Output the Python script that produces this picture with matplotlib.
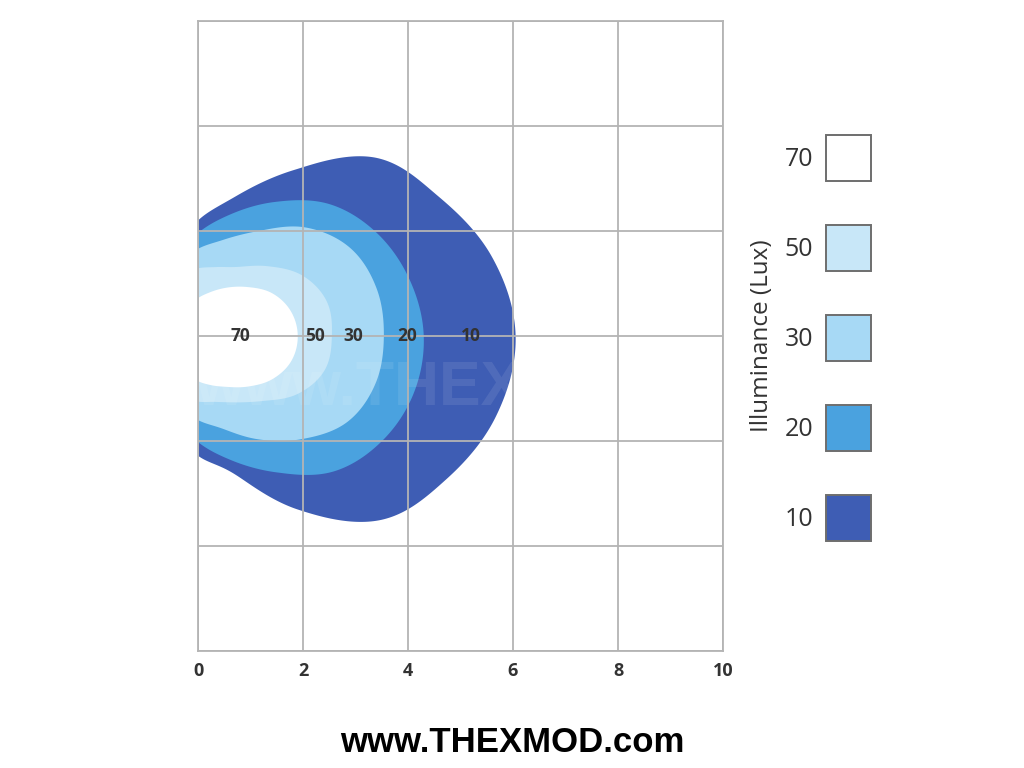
import numpy as np
import matplotlib
matplotlib.use("Agg")
import matplotlib.pyplot as plt
from matplotlib.patches import Rectangle

# ---- data ----
# boundary radius (m) of each iso-lux contour, measured from the origin at given angles (deg)
ANGLES = [-90, -75, -60, -45, -30, -15, 0, 15, 30, 45, 60, 75, 90]
R10 = [2.28, 2.73, 3.82, 4.95, 5.46, 5.88, 6.05, 5.80, 5.30, 4.80, 3.65, 2.75, 2.20]
R20 = [2.02, 2.45, 3.00, 3.65, 4.03, 4.25, 4.30, 4.17, 3.93, 3.55, 2.95, 2.40, 1.96]
R30 = [1.60, 1.83, 2.27, 2.78, 3.28, 3.50, 3.54, 3.52, 3.35, 2.92, 2.31, 1.90, 1.66]
R50 = [1.25, 1.30, 1.46, 1.75, 2.20, 2.50, 2.55, 2.54, 2.30, 1.88, 1.52, 1.36, 1.29]
R70 = [0.86, 0.97, 1.12, 1.36, 1.64, 1.84, 1.90, 1.83, 1.63, 1.32, 1.06, 0.86, 0.72]

LEVELS = [10, 20, 30, 50, 70]
RADII = [R10, R20, R30, R50, R70]
COLORS = ["#3e5db4", "#4aa2df", "#a7d9f5", "#c8e7f8", "#ffffff"]
LABEL_X = [5.2, 3.98, 2.95, 2.23, 0.8]          # where the level numbers sit on y = 0

X_TICKS = [0, 2, 4, 6, 8, 10]
Y_TICKS = [-6, -4, -2, 0, 2, 4, 6]
LEGEND_LEVELS = [70, 50, 30, 20, 10]
LEGEND_COLORS = ["#ffffff", "#c8e7f8", "#a7d9f5", "#4aa2df", "#3e5db4"]


def smooth_radius(angles, radii, n=30):
    """Catmull-Rom through r(theta), one extra extrapolated knot at each end."""
    a = np.asarray(angles, float)
    r = np.asarray(radii, float)
    step = a[1] - a[0]
    a = np.concatenate([[a[0] - step], a, [a[-1] + step]])
    r = np.concatenate([[2 * r[0] - r[1]], r, [2 * r[-1] - r[-2]]])
    rp = np.concatenate([[2 * r[0] - r[1]], r, [2 * r[-1] - r[-2]]])
    th_out, r_out = [], []
    t = np.linspace(0, 1, n, endpoint=False)
    for i in range(len(a) - 1):
        p0, p1, p2, p3 = rp[i], rp[i + 1], rp[i + 2], rp[i + 3]
        seg = 0.5 * ((2 * p1) + (-p0 + p2) * t + (2 * p0 - 5 * p1 + 4 * p2 - p3) * t ** 2
                     + (-p0 + 3 * p1 - 3 * p2 + p3) * t ** 3)
        th_out.append(a[i] + step * t)
        r_out.append(seg)
    th_out = np.radians(np.concatenate(th_out + [[a[-1]]]))
    r_out = np.concatenate(r_out + [[r[-1]]])
    return r_out * np.cos(th_out), r_out * np.sin(th_out)


fig = plt.figure(figsize=(10.24, 7.68), dpi=100)
ax = fig.add_axes([198 / 1024, 1 - 651 / 768, 525 / 1024, 630 / 768])

for lev, r, col in zip(LEVELS, RADII, COLORS):
    xs, ys = smooth_radius(ANGLES, r)
    ax.fill(xs, ys, color=col, lw=0, zorder=1)

# faint watermark
ax.text(-0.05, -1.33, "www.THEXMOD.com", fontsize=45, fontweight="bold",
        family="Liberation Sans", color="white", alpha=0.09, ha="left",
        va="baseline", zorder=2, clip_on=True)

for lev, lx in zip(LEVELS, LABEL_X):
    ax.text(lx, 0, str(lev), ha="center", va="center", fontsize=12.5,
            fontweight="bold", family="Open Sans", color="#333333", zorder=4)

ax.set_xlim(0, 10)
ax.set_ylim(-6, 6)
ax.set_xticks(X_TICKS)
ax.set_yticks(Y_TICKS)
ax.set_yticklabels([])
ax.grid(True, color="#b4b4b4", lw=1.3, zorder=3)
ax.set_axisbelow(False)
ax.tick_params(length=0, pad=8, labelsize=13, labelcolor="#333333")
for lab in ax.get_xticklabels():
    lab.set_fontweight("bold")
    lab.set_family("Open Sans")
for sp in ax.spines.values():
    sp.set_color("#b4b4b4")
    sp.set_linewidth(1.3)

# legend on the right
for i, (lev, col) in enumerate(zip(LEGEND_LEVELS, LEGEND_COLORS)):
    top = 135 + 90 * i
    fig.patches.append(Rectangle((826 / 1024, 1 - (top + 46) / 768), 45 / 1024, 46 / 768,
                                 transform=fig.transFigure, facecolor=col,
                                 edgecolor="#6e6e6e", lw=1.4))
    fig.text(813 / 1024, 1 - (top + 24) / 768, str(lev), ha="right", va="center",
             fontsize=18, family="Open Sans", color="#333333")

fig.text(762 / 1024, 1 - 336 / 768, "Illuminance (Lux)", rotation=90, ha="center",
         va="center", fontsize=17.5, family="Open Sans", color="#333333")

fig.text(512 / 1024, 1 - 742 / 768, "www.THEXMOD.com", ha="center", va="center",
         fontsize=25, fontweight="bold", family="Liberation Sans", color="black")

fig.savefig("out.png", dpi=100)
